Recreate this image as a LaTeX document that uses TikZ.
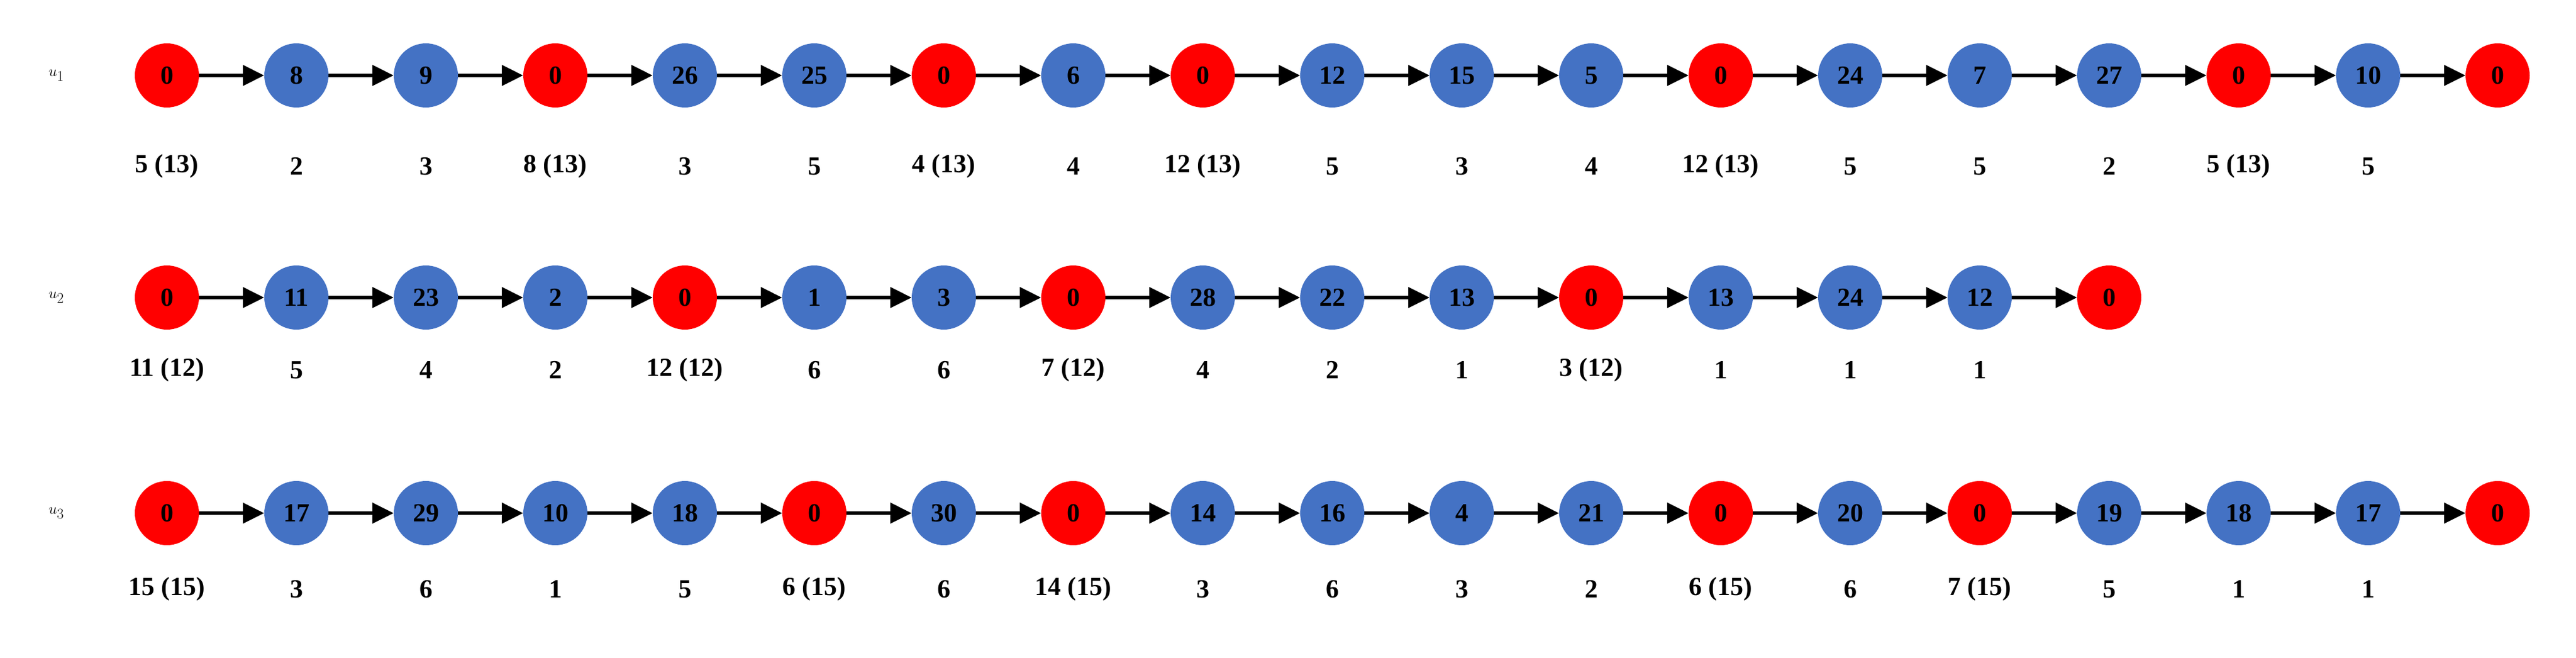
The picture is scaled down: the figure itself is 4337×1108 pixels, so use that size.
\documentclass[tikz,border=0pt]{standalone}
\usepackage{fontspec}
\setmainfont{Liberation Serif}
\usetikzlibrary{arrows.meta}
\definecolor{nblue}{RGB}{68,114,196}
\begin{document}
\begin{tikzpicture}[x=1pt,y=-1pt,
  nd/.style={circle,minimum size=108pt,inner sep=0pt,font=\fontsize{44}{44}\selectfont\bfseries},
  rd/.style={nd,fill=red},
  bd/.style={nd,fill=nblue},
  lab/.style={font=\fontsize{44}{44}\selectfont\bfseries},
  arr/.style={line width=6pt,-{Triangle[length=36pt,width=34pt]}},
  ul/.style={font=\fontsize{90}{90}\selectfont}]
\useasboundingbox (0,0) rectangle (4337,1108);
\def\dx{218}
% row 1
\node[ul] (u1) at (95,127) {$u_1$};
\foreach [count=\i] \v/\l in {0/{5 (13)},8/2,9/3,0/{8 (13)},26/3,25/5,0/{4 (13)},6/4,0/{12 (13)},12/5,15/3,5/4,0/{12 (13)},24/5,7/5,27/2,0/{5 (13)},10/5,0/{}}{
  \ifnum\v=0 \def\st{rd}\else\def\st{bd}\fi
  \node[\st] (a\i) at ({281+(\i-1)*\dx},127) {\v};
  \node[lab] (al\i) at ({281+(\i-1)*\dx},280) {\l};
}
\foreach \i [evaluate=\i as \j using int(\i+1)] in {1,...,18} \draw[arr] (a\i) -- (a\j);
% row 2
\node[ul] (u2) at (95,501) {$u_2$};
\foreach [count=\i] \v/\l in {0/{11 (12)},11/5,23/4,2/2,0/{12 (12)},1/6,3/6,0/{7 (12)},28/4,22/2,13/1,0/{3 (12)},13/1,24/1,12/1,0/{}}{
  \ifnum\v=0 \def\st{rd}\else\def\st{bd}\fi
  \node[\st] (b\i) at ({281+(\i-1)*\dx},501) {\v};
  \node[lab] (bl\i) at ({281+(\i-1)*\dx},623) {\l};
}
\foreach \i [evaluate=\i as \j using int(\i+1)] in {1,...,15} \draw[arr] (b\i) -- (b\j);
% row 3
\node[ul] (u3) at (95,864) {$u_3$};
\foreach [count=\i] \v/\l in {0/{15 (15)},17/3,29/6,10/1,18/5,0/{6 (15)},30/6,0/{14 (15)},14/3,16/6,4/3,21/2,0/{6 (15)},20/6,0/{7 (15)},19/5,18/1,17/1,0/{}}{
  \ifnum\v=0 \def\st{rd}\else\def\st{bd}\fi
  \node[\st] (c\i) at ({281+(\i-1)*\dx},864) {\v};
  \node[lab] (cl\i) at ({281+(\i-1)*\dx},992) {\l};
}
\foreach \i [evaluate=\i as \j using int(\i+1)] in {1,...,18} \draw[arr] (c\i) -- (c\j);
\end{tikzpicture}
\end{document}
